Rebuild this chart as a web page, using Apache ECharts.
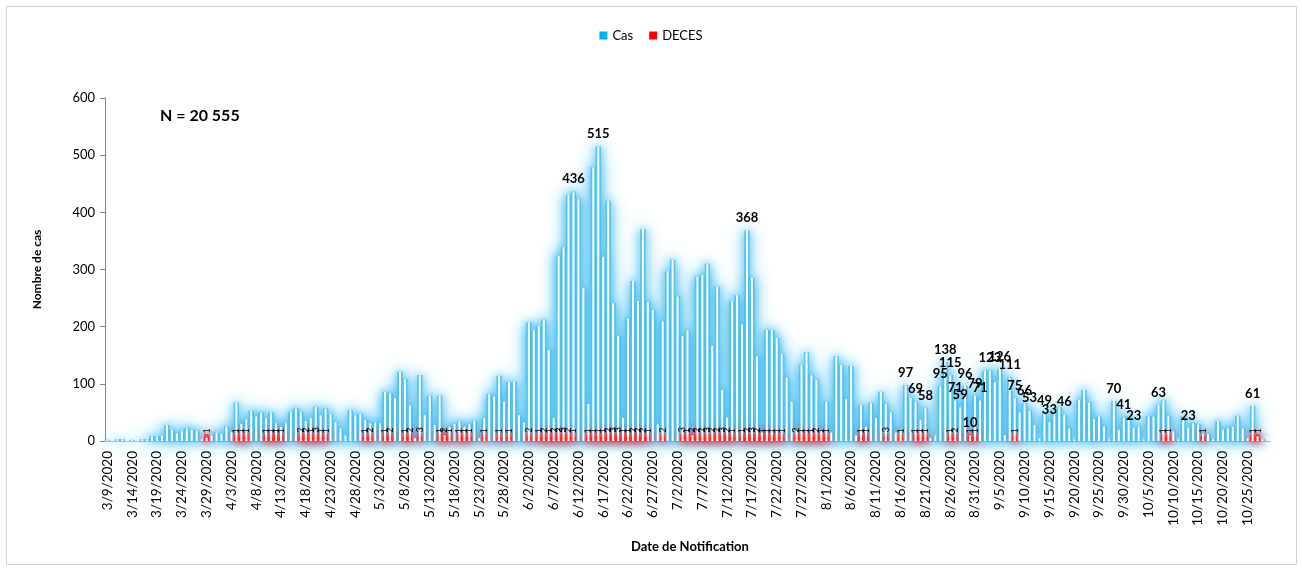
<!DOCTYPE html>
<html><head><meta charset="utf-8">
<script src="https://cdn.jsdelivr.net/npm/echarts@6/dist/echarts.min.js"></script>
<style>html,body{margin:0;padding:0;background:#fff}#c{width:1302px;height:570px}</style>
</head><body><div id="c"></div>
<script>
// ---- data ----
const startDay = '2020-03-09';
const dayCount = 235;
function buildDates(start, n) {
  const out = []; const dt = new Date(start + 'T00:00:00Z');
  for (let i = 0; i < n; i++) {
    out.push((dt.getUTCMonth() + 1) + '/' + dt.getUTCDate() + '/' + dt.getUTCFullYear());
    dt.setUTCDate(dt.getUTCDate() + 1);
  }
  return out;
}
const categories = buildDates(startDay, dayCount);

const cases = [
  2,0,3,3,0,2,0,3,3,8,
  8,9,28,19,13,17,22,20,18,3,
  6,10,15,12,25,16,67,30,38,52,
  43,50,40,50,31,25,31,50,57,50,
  35,40,60,45,57,47,33,22,10,54,
  45,47,37,31,33,31,86,83,75,121,
  108,62,5,115,45,79,28,79,10,25,
  30,35,25,30,35,5,40,82,78,114,
  69,103,103,45,32,207,194,201,212,159,
  40,324,339,430,436,423,268,65,479,515,
  322,420,241,184,40,214,280,245,371,243,
  229,30,209,297,317,253,184,194,10,287,
  290,310,167,270,89,41,245,255,204,368,
  285,148,15,194,194,180,152,111,69,20,
  133,155,115,107,20,69,15,148,133,73,
  131,10,62,25,66,40,86,65,50,15,
  20,97,75,69,37,58,5,10,95,138,
  115,71,59,96,10,79,71,122,123,103,
  126,10,111,75,50,66,53,28,5,49,
  33,53,59,46,22,3,72,89,67,38,
  43,25,3,70,20,41,43,23,25,3,
  43,43,63,72,44,17,3,43,23,31,
  29,13,12,3,35,20,22,25,44,22,
  5,61,8,3,0
];
const deaths = [
  0,0,0,0,0,0,0,0,0,0,
  0,0,0,0,0,0,0,0,0,0,
  1,0,0,0,0,0,1,1,1,0,
  0,0,1,1,1,1,0,0,0,2,
  2,1,3,1,1,0,0,0,0,0,
  0,0,1,2,0,0,1,2,0,0,
  1,2,0,3,0,0,0,1,2,1,
  0,1,1,1,0,0,1,0,0,1,
  0,1,0,0,0,2,0,1,2,1,
  2,2,3,2,1,0,0,1,1,1,
  1,2,3,3,1,1,2,2,2,1,
  0,0,2,0,0,0,3,1,2,2,
  2,3,2,2,3,2,1,0,1,2,
  3,2,1,1,1,1,1,0,0,2,
  1,1,1,2,1,1,0,0,0,0,
  0,0,1,1,0,0,0,3,0,0,
  1,0,0,1,1,1,0,0,0,0,
  1,2,0,0,1,1,0,0,0,0,
  0,0,0,1,0,0,0,0,0,0,
  0,0,0,0,0,0,0,0,0,0,
  0,0,0,0,0,0,0,0,0,0,
  0,0,0,1,1,0,0,0,0,0,
  0,1,0,0,0,0,0,0,0,0,
  0,1,1,0,0
];
// indices of case bars that carry a value label
const casesLabeled = [94,99,129,161,163,165,168,169,170,171,172,173,174,175,176,178,180,182,183,185,186,189,190,193,203,205,207,212,218,231];
const yMin = 0, yMax = 600, yStep = 100;
const totalText = 'N = 20 555';

// ---- chart ----
const FONT = 'Lato, "Liberation Sans", sans-serif';
const chart = echarts.init(document.getElementById('c'), null, {renderer: 'canvas'});
const hiddenX = () => ({type: 'category', data: categories, show: false, boundaryGap: true});
const deathsGlow = deaths.map(v => v > 0 ? v : '-');

chart.setOption({
  animation: false,
  backgroundColor: '#fff',
  textStyle: {fontFamily: FONT},
  legend: {
    top: 24, left: 'center', itemWidth: 8, itemHeight: 8, itemGap: 16, icon: 'rect',
    textStyle: {fontSize: 13, color: '#000', fontFamily: FONT},
    data: [{name: 'Cas', itemStyle: {color: '#00b0f0'}}, {name: 'DECES', itemStyle: {color: '#ff0000'}}]
  },
  grid: {left: 105, right: 32, top: 98, bottom: 129},
  xAxis: [
    {
      type: 'category', data: categories, boundaryGap: true,
      axisLine: {show: true, lineStyle: {color: '#8fd2f2'}},
      axisTick: {show: false},
      axisLabel: {rotate: 90, interval: 4, fontSize: 13.5, color: '#000', margin: 10, fontFamily: FONT}
    },
    hiddenX(), hiddenX(), hiddenX(), hiddenX(), hiddenX()
  ],
  yAxis: {
    type: 'value', min: yMin, max: yMax, interval: yStep,
    axisLine: {show: true, lineStyle: {color: '#868686'}},
    axisTick: {show: true, length: 5, lineStyle: {color: '#868686'}},
    splitLine: {show: false},
    axisLabel: {fontSize: 13, color: '#000', margin: 10, fontFamily: FONT},
    name: 'Nombre de cas', nameLocation: 'middle', nameRotate: 90, nameGap: 62,
    nameTextStyle: {fontSize: 12, fontWeight: 'bold', color: '#000', fontFamily: FONT}
  },
  graphic: [
    {type: 'rect', shape: {x: 6.5, y: 6.5, width: 1290, height: 558}, style: {fill: 'none', stroke: '#d0d0d0', lineWidth: 1}, silent: true},
    {type: 'text', left: 160, top: 108, style: {text: totalText, font: 'bold 16px ' + FONT, fill: '#000'}},
    {type: 'text', left: 631, top: 540, style: {text: 'Date de Notification', font: 'bold 13px ' + FONT, fill: '#000'}}
  ],
  series: [
    {
      name: 'Cas', type: 'bar', xAxisIndex: 1, data: cases, barWidth: '100%', silent: true, z: 1,
      itemStyle: {color: '#56c5f1', shadowBlur: 18, shadowColor: 'rgba(60,185,240,1)'}
    },
    {
      name: 'casGlow2', type: 'bar', xAxisIndex: 4, data: cases, barWidth: '100%', silent: true, z: 1.5,
      itemStyle: {color: '#56c5f1', shadowBlur: 8, shadowColor: 'rgba(60,185,240,1)'}
    },
    {
      name: 'DECES', type: 'bar', xAxisIndex: 2, data: deathsGlow, barWidth: '100%', barMinHeight: 7, silent: true, z: 2,
      itemStyle: {color: '#ff4a4a', shadowBlur: 12, shadowColor: 'rgba(255,40,50,1)'}
    },
    {
      name: 'decesGlow2', type: 'bar', xAxisIndex: 5, data: deathsGlow, barWidth: '100%', barMinHeight: 4, silent: true, z: 2.5,
      itemStyle: {color: '#ff2a2a', shadowBlur: 6, shadowColor: 'rgba(255,40,50,1)'}
    },
    {
      name: 'casWhite', type: 'bar', xAxisIndex: 0, data: cases, barWidth: 2, z: 3,
      itemStyle: {color: '#ffffff'},
      label: {
        show: true, position: 'top', distance: 6, fontSize: 13, fontWeight: 'bold', color: '#000', fontFamily: FONT,
        formatter: p => casesLabeled.includes(p.dataIndex) ? String(p.value) : ''
      }
    },
    {
      name: 'decesLabel', type: 'bar', xAxisIndex: 3, data: deaths, barWidth: 2, z: 4,
      itemStyle: {color: 'rgba(255,255,255,0.9)'},
      label: {
        show: true, position: 'top', distance: 7, rotate: 90, align: 'left', verticalAlign: 'middle',
        fontSize: 9, color: '#000', fontFamily: FONT,
        formatter: p => p.value > 0 ? String(p.value) : ''
      }
    }
  ]
});
</script>
</body></html>
